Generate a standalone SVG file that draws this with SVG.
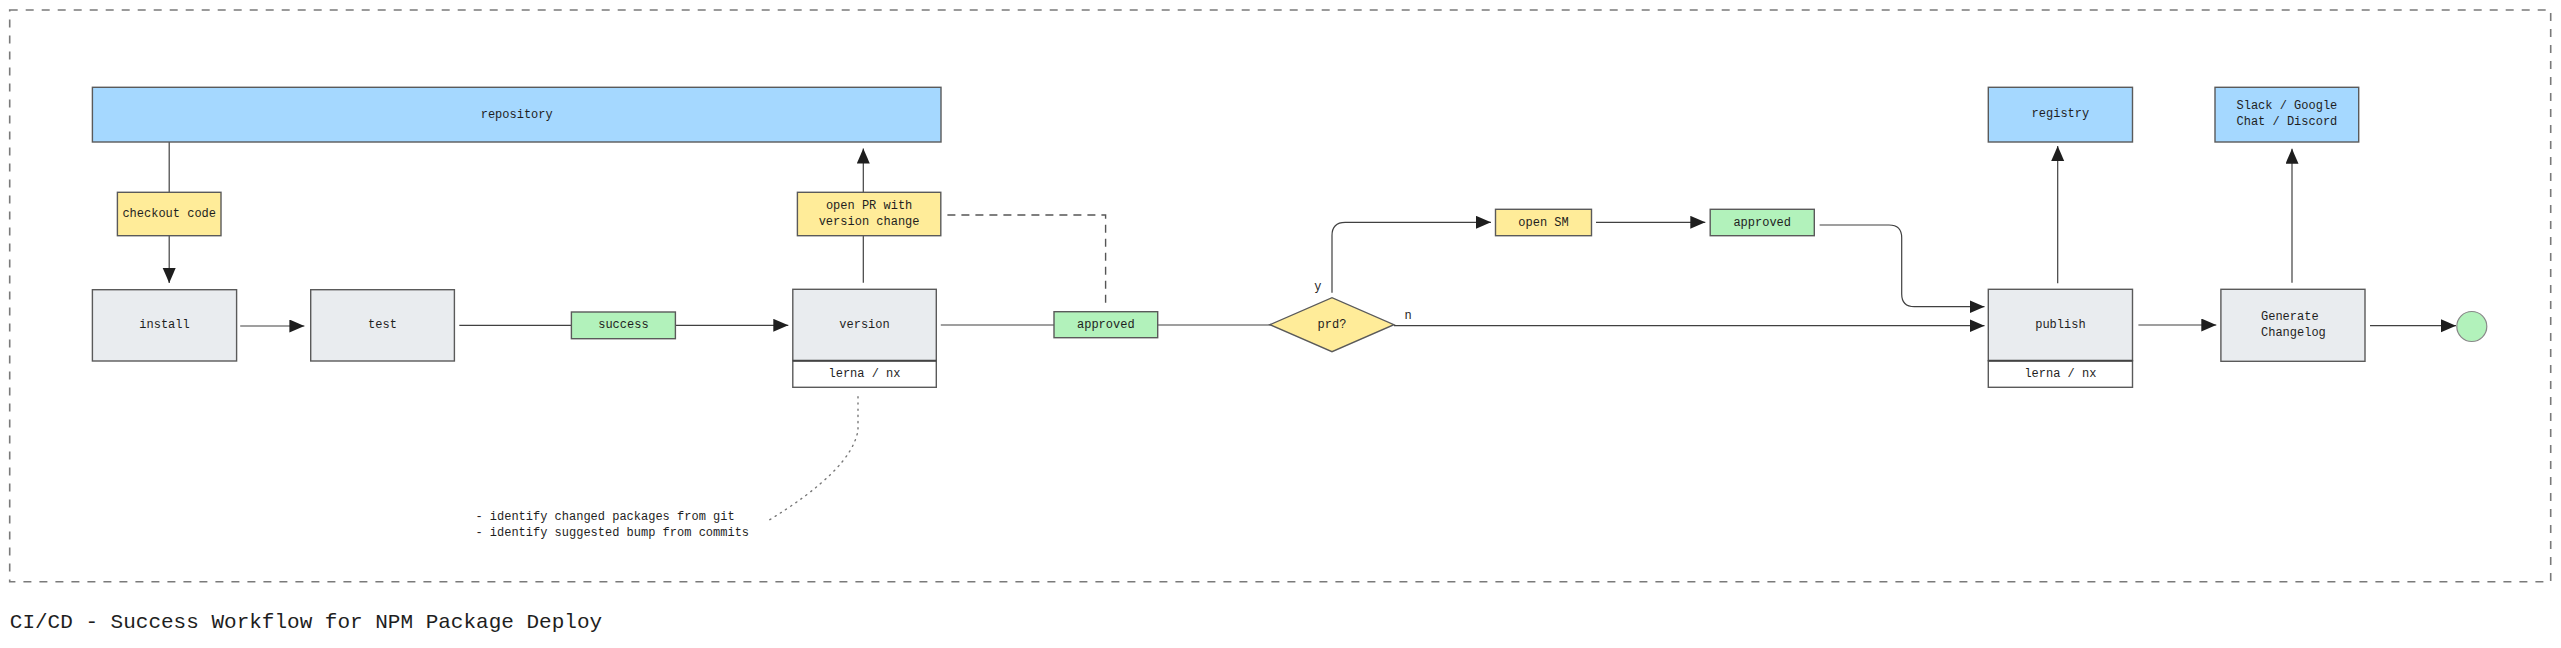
<svg xmlns="http://www.w3.org/2000/svg" width="2561" height="648" viewBox="0 0 2561 648">
<defs>
<marker id="ah" markerUnits="userSpaceOnUse" markerWidth="16" markerHeight="14" refX="15" refY="6.5" orient="auto">
<path d="M0,0 L15,6.5 L0,13 z" fill="#1e1e1e"/>
</marker>
</defs>
<style>
text{font-family:"Liberation Mono","DejaVu Sans Mono",monospace;font-size:12px;fill:#1e1e1e;}
.c{text-anchor:middle;dominant-baseline:central;}
.l{dominant-baseline:central;}
.box{stroke:#5a5a5a;stroke-width:1.4;}
.blue{fill:#a5d8ff;}
.yel{fill:#ffec99;}
.grn{fill:#b2f2bb;}
.gry{fill:#e9ecef;}
.wht{fill:#ffffff;}
.ln{fill:none;stroke:#404040;stroke-width:1.2;}
.arr{marker-end:url(#ah);}
.dash{fill:none;stroke:#555;stroke-width:1.4;stroke-dasharray:8 6;}
.dot{fill:none;stroke:#777;stroke-width:1.4;stroke-dasharray:1.2 5;stroke-linecap:round;}
.frame{fill:none;stroke:#7a7a7a;stroke-width:1.6;stroke-dasharray:8 8;}
.title{font-size:21px;}
</style>
<rect class="frame" x="9.7" y="10" width="2541" height="571.7"/>
<g id="connectors">
<line class="ln" x1="169.2" y1="142" x2="169.2" y2="192.3"/>
<line class="ln arr" x1="169.2" y1="235.7" x2="169.2" y2="283"/>
<line class="ln arr" x1="240.2" y1="326" x2="304.4" y2="326"/>
<line class="ln" x1="459.3" y1="325.3" x2="571.4" y2="325.3"/>
<line class="ln arr" x1="675.4" y1="325.3" x2="788.3" y2="325.3"/>
<line class="ln" x1="863.3" y1="282.7" x2="863.3" y2="235.7"/>
<line class="ln arr" x1="863.3" y1="192.3" x2="863.3" y2="148.5"/>
<line class="ln" x1="940.8" y1="325" x2="1054" y2="325"/>
<line class="ln" x1="1157.7" y1="325" x2="1269.9" y2="325"/>
<polyline class="dash" points="947.4,215 1105.6,215 1105.6,305"/>
<path class="ln arr" d="M1332,292.7 L1332,235.5 Q1332,222.3 1345.2,222.3 L1491,222.3"/>
<line class="ln arr" x1="1596" y1="222.3" x2="1705.3" y2="222.3"/>
<path class="ln arr" d="M1819.6,225 L1889,225 Q1901.7,225 1901.7,237.7 L1901.7,294 Q1901.7,306.7 1914.4,306.7 L1984.5,306.7"/>
<line class="ln arr" x1="1393.9" y1="325.7" x2="1984.5" y2="325.7"/>
<line class="ln arr" x1="2057.7" y1="283.3" x2="2057.7" y2="146"/>
<line class="ln arr" x1="2138.4" y1="325" x2="2216.3" y2="325"/>
<line class="ln arr" x1="2292" y1="282.7" x2="2292" y2="148.7"/>
<line class="ln arr" x1="2370" y1="325.7" x2="2456" y2="325.7"/>
<path class="dot" d="M858,396.7 L858,430 Q852,470 766,522"/>
<text class="c" x="1317.8" y="286.7">y</text>
<text class="c" x="1408" y="316">n</text>
</g>
<g id="repository">
<rect class="box blue" x="92.4" y="87.3" width="848.6" height="54.7"/>
<text class="c" x="516.7" y="114.7">repository</text>
</g>
<g id="checkout">
<rect class="box yel" x="117.4" y="192.3" width="103.6" height="43.4"/>
<text class="c" x="169.2" y="214">checkout code</text>
</g>
<g id="install">
<rect class="box gry" x="92.4" y="289.7" width="144.2" height="71.3"/>
<text class="c" x="164.5" y="325.3">install</text>
</g>
<g id="test">
<rect class="box gry" x="310.7" y="289.7" width="143.7" height="71.3"/>
<text class="c" x="382.5" y="325.3">test</text>
</g>
<g id="success">
<rect class="box grn" x="571.4" y="312" width="104" height="26.7"/>
<text class="c" x="623.4" y="325.3">success</text>
</g>
<g id="version">
<rect class="box gry" x="792.8" y="289.3" width="143.5" height="71.4"/>
<rect class="box wht" x="792.8" y="360.7" width="143.5" height="26.6"/>
<line x1="792.8" y1="360.7" x2="936.3" y2="360.7" stroke="#444" stroke-width="2"/>
<text class="c" x="864.5" y="325">version</text>
<text class="c" x="864.5" y="374">lerna / nx</text>
</g>
<g id="openpr">
<rect class="box yel" x="797.4" y="192.3" width="143.4" height="43.4"/>
<text class="c" x="869.1" y="205.5">open PR with</text>
<text class="c" x="869.1" y="222">version change</text>
</g>
<g id="approved1">
<rect class="box grn" x="1054" y="311.7" width="103.7" height="26"/>
<text class="c" x="1105.8" y="324.7">approved</text>
</g>
<g id="prd">
<polygon class="box yel" points="1269.9,324.7 1332,297.7 1393.9,324.7 1332,351.7"/>
<text class="c" x="1332" y="324.7">prd?</text>
</g>
<g id="opensm">
<rect class="box yel" x="1495.5" y="209.3" width="96" height="26.4"/>
<text class="c" x="1543.5" y="222.5">open SM</text>
</g>
<g id="approved2">
<rect class="box grn" x="1710.2" y="209.3" width="104.1" height="26.4"/>
<text class="c" x="1762.2" y="222.5">approved</text>
</g>
<g id="registry">
<rect class="box blue" x="1988.3" y="87.3" width="144.2" height="54.7"/>
<text class="c" x="2060.4" y="114">registry</text>
</g>
<g id="chat">
<rect class="box blue" x="2215" y="87.3" width="143.7" height="54.7"/>
<text class="l" x="2236.5" y="106">Slack / Google</text>
<text class="l" x="2236.5" y="122">Chat / Discord</text>
</g>
<g id="publish">
<rect class="box gry" x="1988.3" y="289.3" width="144.2" height="71.4"/>
<rect class="box wht" x="1988.3" y="360.7" width="144.2" height="26.6"/>
<line x1="1988.3" y1="360.7" x2="2132.5" y2="360.7" stroke="#444" stroke-width="2"/>
<text class="c" x="2060.4" y="325">publish</text>
<text class="c" x="2060.4" y="374">lerna / nx</text>
</g>
<g id="changelog">
<rect class="box gry" x="2220.9" y="289.3" width="144.1" height="72"/>
<text class="l" x="2261" y="317">Generate</text>
<text class="l" x="2261" y="333.3">Changelog</text>
</g>
<g id="end">
<circle cx="2471.8" cy="326.5" r="15" fill="#b2f2bb" stroke="#888" stroke-width="1.2"/>
</g>
<g id="note">
<text class="l" x="475.4" y="516.7">- identify changed packages from git</text>
<text class="l" x="475.4" y="532.7">- identify suggested bump from commits</text>
</g>
<text class="title" x="9.8" y="627.7">CI/CD - Success Workflow for NPM Package Deploy</text>
</svg>
